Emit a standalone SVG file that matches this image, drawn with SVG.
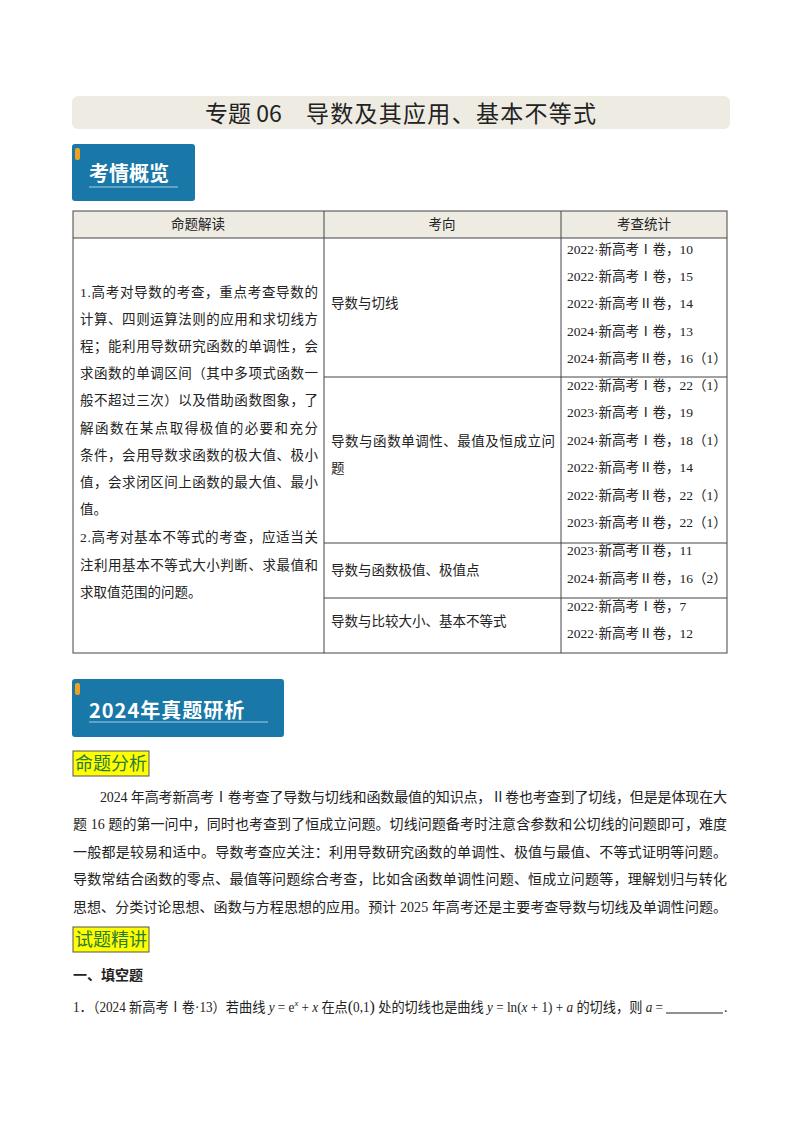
<svg xmlns="http://www.w3.org/2000/svg" width="800" height="1132" viewBox="0 0 800 1132">
<style>
text{font-family:"Liberation Serif","Noto Sans CJK SC",serif;fill:#222}
.s{font-family:"Noto Sans CJK SC",sans-serif}
.b{font-size:14px}
.t{font-size:13.5px}
.ln{stroke:#444;stroke-width:1;fill:none}
</style>
<rect width="800" height="1132" fill="#fff"/>
<g id="title"><rect x="72" y="96" width="658" height="33" rx="6" fill="#eeebe3"/>
<text x="205" y="122" font-size="23" class="s">专题 06</text><text x="306" y="122" font-size="23" class="s" textLength="290">导数及其应用、基本不等式</text></g>
<g id="badge1"><rect x="72" y="144" width="123" height="57" rx="3" fill="#1a78a8"/><rect x="75" y="148" width="5" height="12" rx="2" fill="#f0a020"/>
<text x="89" y="181" font-size="20" font-weight="bold" class="s" style="fill:#fff">考情概览</text><line x1="89" y1="187" x2="178" y2="187" stroke="#9fd0ea"/></g>
<g id="table">
<rect x="73" y="211" width="654" height="27" fill="#eeebe3"/>
<rect x="73" y="211" width="654" height="442" class="ln"/>
<path class="ln" d="M73 238H727M324 211V653M561 211V653M324 377H727M324 543H727M324 598H727"/>
<g class="s t" text-anchor="middle"><text x="198" y="229">命题解读</text><text x="442" y="229">考向</text><text x="644" y="229">考查统计</text></g>
<g class="t">
<text x="80" y="297" textLength="238">1.高考对导数的考查，重点考查导数的</text>
<text x="80" y="324" textLength="238">计算、四则运算法则的应用和求切线方</text>
<text x="80" y="351" textLength="238">程；能利用导数研究函数的单调性，会</text>
<text x="80" y="378" textLength="238">求函数的单调区间（其中多项式函数一</text>
<text x="80" y="405" textLength="238">般不超过三次）以及借助函数图象，了</text>
<text x="80" y="433" textLength="238">解函数在某点取得极值的必要和充分</text>
<text x="80" y="460" textLength="238">条件，会用导数求函数的极大值、极小</text>
<text x="80" y="487" textLength="238">值，会求闭区间上函数的最大值、最小</text>
<text x="80" y="514">值。</text>
<text x="80" y="542" textLength="238">2.高考对基本不等式的考查，应适当关</text>
<text x="80" y="570" textLength="238">注利用基本不等式大小判断、求最值和</text>
<text x="80" y="597">求取值范围的问题。</text>
<text x="331" y="308">导数与切线</text>
<text x="331" y="446" textLength="224">导数与函数单调性、最值及恒成立问</text>
<text x="331" y="473">题</text>
<text x="331" y="575">导数与函数极值、极值点</text>
<text x="331" y="626">导数与比较大小、基本不等式</text>
<text x="567" y="254">2022·新高考Ⅰ卷，10</text>
<text x="567" y="281">2022·新高考Ⅰ卷，15</text>
<text x="567" y="308">2022·新高考Ⅱ卷，14</text>
<text x="567" y="336">2024·新高考Ⅰ卷，13</text>
<text x="567" y="363">2024·新高考Ⅱ卷，16（1）</text>
<text x="567" y="390">2022·新高考Ⅰ卷，22（1）</text>
<text x="567" y="417">2023·新高考Ⅰ卷，19</text>
<text x="567" y="445">2024·新高考Ⅰ卷，18（1）</text>
<text x="567" y="472">2022·新高考Ⅱ卷，14</text>
<text x="567" y="500">2022·新高考Ⅱ卷，22（1）</text>
<text x="567" y="527">2023·新高考Ⅱ卷，22（1）</text>
<text x="567" y="555">2023·新高考Ⅱ卷，11</text>
<text x="567" y="583">2024·新高考Ⅱ卷，16（2）</text>
<text x="567" y="611">2022·新高考Ⅰ卷，7</text>
<text x="567" y="638">2022·新高考Ⅱ卷，12</text>
</g></g>
<g id="badge2"><rect x="72" y="679" width="212" height="58" rx="3" fill="#1a78a8"/><rect x="75" y="683" width="5" height="12" rx="2" fill="#f0a020"/>
<text x="89" y="718" font-size="20" font-weight="bold" class="s" style="fill:#fff" letter-spacing="1">2024年真题研析</text><line x1="89" y1="722" x2="268" y2="722" stroke="#9fd0ea"/></g>
<g id="tag1"><rect x="73" y="751" width="76" height="25" fill="#ffff00" stroke="#555"/><text x="75" y="770" font-size="18" class="s" style="fill:#2a7a3a">命题分析</text></g>
<g id="para" class="b">
<text x="100" y="802" textLength="627">2024 年高考新高考Ⅰ卷考查了导数与切线和函数最值的知识点，Ⅱ卷也考查到了切线，但是是体现在大</text>
<text x="73" y="829" textLength="654">题 16 题的第一问中，同时也考查到了恒成立问题。切线问题备考时注意含参数和公切线的问题即可，难度</text>
<text x="73" y="857" textLength="654">一般都是较易和适中。导数考查应关注：利用导数研究函数的单调性、极值与最值、不等式证明等问题。</text>
<text x="73" y="884" textLength="654">导数常结合函数的零点、最值等问题综合考查，比如含函数单调性问题、恒成立问题等，理解划归与转化</text>
<text x="73" y="912" textLength="654">思想、分类讨论思想、函数与方程思想的应用。预计 2025 年高考还是主要考查导数与切线及单调性问题。</text>
</g>
<g id="tag2"><rect x="73" y="927" width="76" height="25" fill="#ffff00" stroke="#555"/><text x="75" y="946" font-size="18" class="s" style="fill:#2a7a3a">试题精讲</text></g>
<text x="73" y="980" font-size="14" font-weight="bold" class="s">一、填空题</text>
<g id="q1" class="b"><text x="73" y="1012" textLength="590" lengthAdjust="spacingAndGlyphs">1．（2024 新高考Ⅰ卷·13）若曲线 <tspan font-style="italic">y</tspan> = e<tspan font-size="9" dy="-6" font-style="italic">x</tspan><tspan dy="6"> + </tspan><tspan font-style="italic">x</tspan> 在点<tspan font-size="17">(</tspan>0,1<tspan font-size="17">)</tspan> 处的切线也是曲线 <tspan font-style="italic">y</tspan> = ln(<tspan font-style="italic">x</tspan> + 1) + <tspan font-style="italic">a</tspan> 的切线，则 <tspan font-style="italic">a</tspan> =</text>
<line x1="666" y1="1013" x2="723" y2="1013" stroke="#222"/><text x="724" y="1012">.</text></g>
</svg>
